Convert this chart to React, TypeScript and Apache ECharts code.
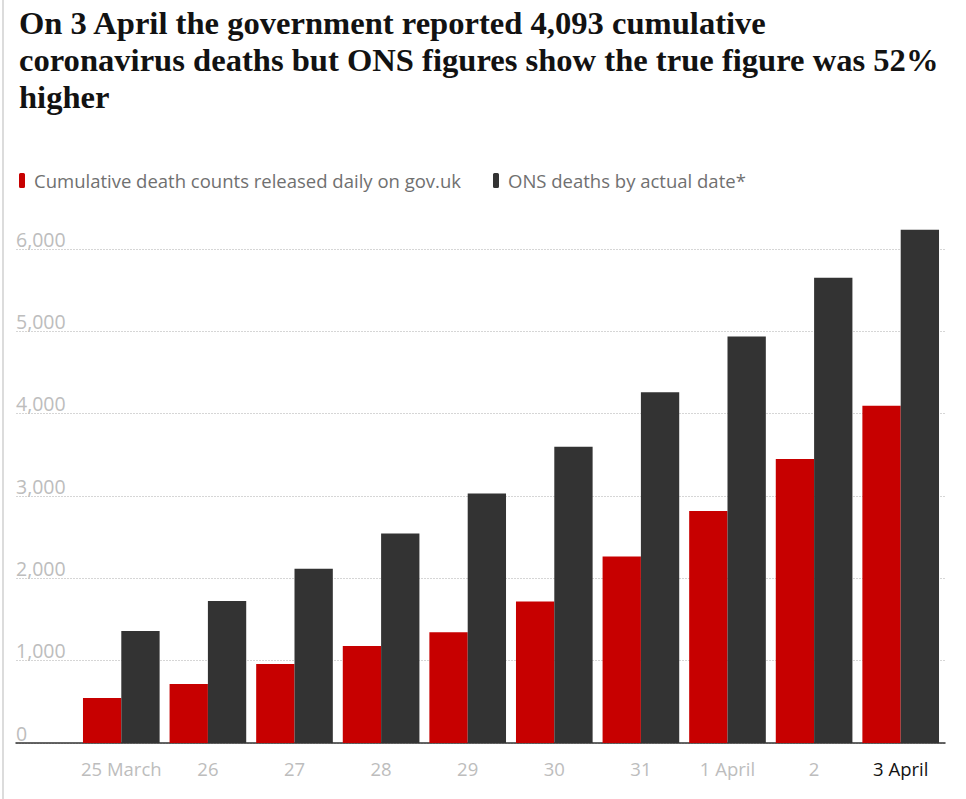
import React, { useEffect, useRef } from "react";
import * as echarts from "echarts";

const categories = ["25 March", "26", "27", "28", "29", "30", "31", "1 April", "2", "3 April"];
const govUkDeaths = [547, 717, 960, 1178, 1345, 1717, 2264, 2815, 3446, 4093];
const onsDeaths = [1361, 1725, 2114, 2543, 3029, 3597, 4257, 4934, 5647, 6230];
const yTicks = [0, 1000, 2000, 3000, 4000, 5000, 6000];
const seriesNames = ["Cumulative death counts released daily on gov.uk", "ONS deaths by actual date*"];
const titleLines = [
  "On 3 April the government reported 4,093 cumulative",
  "coronavirus deaths but ONS figures show the true figure was 52%",
  "higher",
];

export default function App() {
  const ref = useRef<HTMLDivElement>(null);
  useEffect(() => {
    if (!ref.current) return;
    const chart = echarts.init(ref.current, null, { renderer: "svg" });
    const yMax = yTicks[yTicks.length - 1];
    const plotBottom = 743;
    const tickTop = 249;
    const pxPerUnit = (plotBottom - tickTop) / yMax;
    const barMax = 6300;
    const barTop = Math.round(plotBottom - barMax * pxPerUnit);
    const sans = "Open Sans";
    const option: any = {
      animation: false,
      backgroundColor: "#ffffff",
      title: {
        text: titleLines.join("\n"),
        left: 14,
        top: -1,
        textStyle: {
          fontFamily: "Liberation Serif",
          fontWeight: "bold",
          fontSize: 32.6,
          lineHeight: 37,
          color: "#121212",
        },
      },
      legend: {
        left: 14,
        top: 166,
        icon: "roundRect",
        itemWidth: 6,
        itemHeight: 15,
        itemGap: 32,
        data: seriesNames,
        textStyle: { fontFamily: sans, fontSize: 18.5, color: "#707070", padding: [0, 0, 0, 4] },
      },
      graphic: [
        { type: "rect", left: 2, top: 0, shape: { width: 2, height: 799 }, style: { fill: "#dcdcdc" } },
      ],
      grid: [
        { left: 16, right: 21, top: tickTop, bottom: 799 - plotBottom },
        { left: 78, right: 22, top: barTop, bottom: 799 - plotBottom },
      ],
      xAxis: [
        {
          type: "category",
          gridIndex: 0,
          data: [""],
          axisLine: { show: true, lineStyle: { color: "#333333", width: 1.5 } },
          axisTick: { show: false },
          axisLabel: { show: false },
        },
        {
          type: "category",
          gridIndex: 1,
          data: categories,
          axisLine: { show: false },
          axisTick: { show: false },
          axisLabel: {
            interval: 0,
            color: "#bdbdbd",
            fontFamily: sans,
            fontSize: 18.5,
            margin: 16,
            formatter: (v: string, i: number) => (i === categories.length - 1 ? `{last|${v}}` : v),
            rich: { last: { color: "#121212", fontFamily: sans, fontSize: 18.5 } },
          },
        },
      ],
      yAxis: [
        {
          type: "value",
          gridIndex: 0,
          min: 0,
          max: yMax,
          interval: 1000,
          axisLine: { show: false },
          axisTick: { show: false },
          splitLine: { show: true, lineStyle: { color: "#d6d6d6", type: [2, 1], width: 1 } },
          axisLabel: {
            inside: true,
            margin: 0,
            verticalAlign: "bottom",
            color: "#bdbdbd",
            fontFamily: sans,
            fontSize: 19.5,
            padding: [0, 0, 0, 0],
            formatter: (v: number) => v.toLocaleString("en-GB"),
          },
        },
        {
          type: "value",
          gridIndex: 1,
          min: 0,
          max: barMax,
          show: false,
          splitLine: { show: false },
        },
      ],
      series: [
        {
          name: seriesNames[0],
          type: "bar",
          xAxisIndex: 1,
          yAxisIndex: 1,
          data: govUkDeaths,
          barGap: "0%",
          barCategoryGap: "11.5%",
          itemStyle: { color: "#c70000" },
        },
        {
          name: seriesNames[1],
          type: "bar",
          xAxisIndex: 1,
          yAxisIndex: 1,
          data: onsDeaths,
          barGap: "0%",
          barCategoryGap: "11.5%",
          itemStyle: { color: "#333333" },
        },
      ],
    };
    chart.setOption(option);
    return () => chart.dispose();
  }, []);
  return (
    <div
      ref={ref}
      style={{ position: "fixed", left: 0, top: 0, width: 966, height: 799 }}
    />
  );
}
